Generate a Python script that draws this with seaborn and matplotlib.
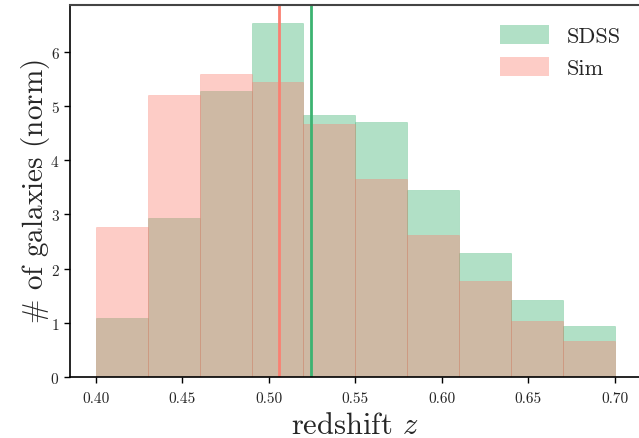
import numpy as np
import pandas as pd
import matplotlib
matplotlib.use("Agg")
import matplotlib.pyplot as plt
import seaborn as sns
from matplotlib.colors import to_rgba

# bin edges shared by both samples
bin_edges = [0.40, 0.43, 0.46, 0.49, 0.52, 0.55, 0.58, 0.61, 0.64, 0.67, 0.70]
# normalised counts per bin
sdss_density = [1.09, 2.94, 5.28, 6.53, 4.83, 4.70, 3.45, 2.29, 1.42, 0.94]
sim_density = [2.77, 5.20, 5.59, 5.44, 4.67, 3.65, 2.62, 1.77, 1.03, 0.66]
# mean redshift of each sample
sdss_mean = 0.5244
sim_mean = 0.5059

sns.set_style("white")
plt.rcParams["font.family"] = ["cmr10", "DejaVu Serif"]
plt.rcParams["mathtext.fontset"] = "cm"
plt.rcParams["axes.formatter.use_mathtext"] = True

centers = [(a + b) / 2 for a, b in zip(bin_edges[:-1], bin_edges[1:])]
df_sdss = pd.DataFrame({"z": centers, "w": sdss_density})
df_sim = pd.DataFrame({"z": centers, "w": sim_density})

fig = plt.figure(figsize=(6.39, 4.39), dpi=100)
ax = fig.add_axes([0.1095, 0.139, 0.893, 0.847])

sns.histplot(data=df_sdss, x="z", weights="w", bins=bin_edges, color="mediumseagreen",
             alpha=0.4, edgecolor=to_rgba("mediumseagreen", 0.3), linewidth=0.6,
             label="SDSS", ax=ax)
sns.histplot(data=df_sim, x="z", weights="w", bins=bin_edges, color="salmon",
             alpha=0.4, edgecolor=to_rgba("salmon", 0.3), linewidth=0.6,
             label="Sim", ax=ax)

ax.axvline(sim_mean, color="salmon", linewidth=2)
ax.axvline(sdss_mean, color="mediumseagreen", linewidth=2)

ax.set_xlabel(r"redshift $z$", fontsize=22, labelpad=5)
ax.set_ylabel(r"$\#$ of galaxies (norm)", fontsize=21, labelpad=-1)
ax.set_xticks([0.40, 0.45, 0.50, 0.55, 0.60, 0.65, 0.70])
ax.set_xticklabels(["0.40", "0.45", "0.50", "0.55", "0.60", "0.65", "0.70"])
ax.tick_params(axis="both", labelsize=11, length=4, width=1, direction="out",
               left=True, bottom=True, color="black")
ax.tick_params(axis="x", pad=6)

for side in ["left", "bottom"]:
    ax.spines[side].set_color("black")
    ax.spines[side].set_linewidth(1.2)
ax.spines["top"].set_color("#444444")
ax.spines["top"].set_linewidth(1.5)
ax.spines["right"].set_visible(False)

leg = ax.legend(loc="upper right", frameon=False, fontsize=16, handlelength=2.2,
                handleheight=0.9)
for h in leg.legend_handles:
    h.set_edgecolor("none")

fig.savefig("out.png", dpi=100)
